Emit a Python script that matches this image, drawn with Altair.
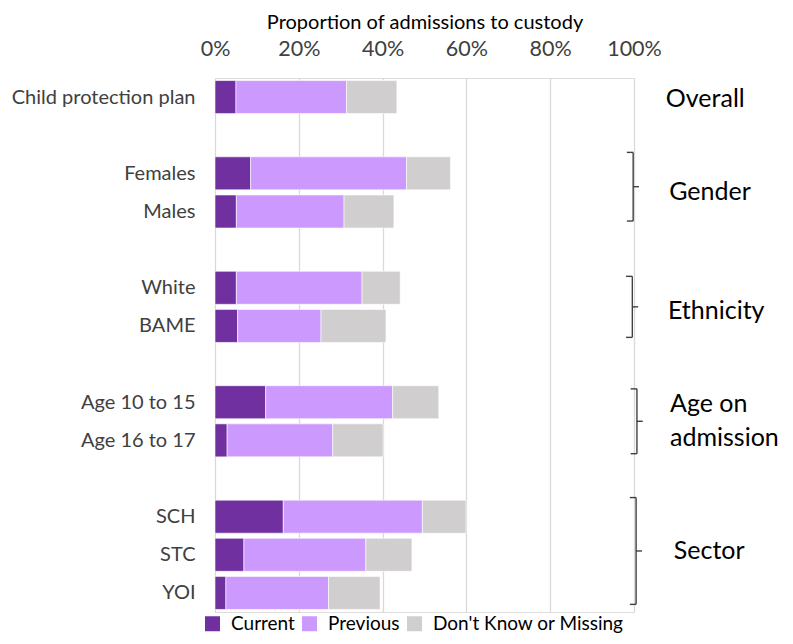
import altair as alt
import pandas as pd

categories = ["Child protection plan", "Females", "Males", "White", "BAME",
              "Age 10 to 15", "Age 16 to 17", "SCH", "STC", "YOI"]
rows = [0, 2, 3, 5, 6, 8, 9, 11, 12, 13]
current = [5.0, 8.5, 5.1, 5.1, 5.4, 12.1, 2.9, 16.3, 6.9, 2.6]
previous = [26.4, 37.2, 25.7, 30.0, 19.9, 30.3, 25.2, 33.2, 29.1, 24.5]
dont_know = [12.0, 10.5, 11.9, 9.1, 15.5, 11.0, 12.0, 10.4, 11.0, 12.3]
series = ["Current", "Previous", "Don't Know or Missing"]
colors = ["#7030A0", "#CC99FF", "#D0CECE"]

# group annotations (right side)
group_labels = ["Overall", "Gender", "Ethnicity", "Age on", "admission", "Sector"]
group_label_x = [107.6, 108.4, 108.1, 108.6, 108.6, 109.5]
group_label_row = [0.05, 2.5, 5.62, 8.05, 8.95, 11.9]

bracket_top = [1.45, 4.7, 7.65, 10.5]
bracket_bottom = [3.25, 6.3, 9.35, 13.3]
bracket_x = [99.8, 99.6, 100.7, 100.5]

rec = []
for i, c in enumerate(categories):
    for j, (s, v) in enumerate(zip(series, [current[i], previous[i], dont_know[i]])):
        rec.append({"category": c, "row": rows[i], "series": s, "order": j, "value": v})
df = pd.DataFrame(rec)

lab_df = pd.DataFrame({"label": group_labels, "x": group_label_x, "row": group_label_row})
br_df = pd.DataFrame({"top": bracket_top, "bottom": bracket_bottom, "bx": bracket_x})

label_expr = " : ".join(f"datum.value == {r} ? '{c}'" for r, c in zip(rows, categories)) + " : ''"

yscale = alt.Scale(domain=[-0.5, 13.5], reverse=True, nice=False, zero=False)
xscale = alt.Scale(domain=[0, 100], nice=False)

bars = alt.Chart(df).transform_stack(
    stack="value", groupby=["row"], as_=["x0", "x1"],
    sort=[alt.SortField("order", "ascending")]
).transform_calculate(
    ytop="datum.row - 0.433", ybot="datum.row + 0.433"
).mark_bar(stroke="white", strokeWidth=0.6).encode(
    x=alt.X("x0:Q", scale=xscale,
            axis=alt.Axis(orient="top", values=[0, 20, 40, 60, 80, 100],
                          labelExpr="datum.value + '%'", grid=True, gridColor="#d9d9d9",
                          gridWidth=1.3, ticks=False, domain=False, labelFlush=False,
                          labelFontSize=21.5, labelColor="#404040", labelPadding=18,
                          title="Proportion of admissions to custody", titleFontSize=20,
                          titleFontWeight="normal", titleColor="#000000", titlePadding=6)),
    x2="x1:Q",
    y=alt.Y("ytop:Q", scale=yscale,
            axis=alt.Axis(values=rows, labelExpr=label_expr, grid=False, ticks=False,
                          domain=False, labelFontSize=20, labelColor="#404040",
                          labelPadding=20, labelLimit=300, title=None)),
    y2="ybot:Q",
    color=alt.Color("series:N", scale=alt.Scale(domain=series, range=colors),
                    legend=alt.Legend(orient="none", legendX=-12, legendY=536,
                                      direction="horizontal", title=None,
                                      symbolType="square", symbolSize=225,
                                      symbolStrokeWidth=0, labelFontSize=19,
                                      labelColor="#000000", columnPadding=5,
                                      labelOffset=9, labelLimit=400)),
    order=alt.Order("order:Q"),
)

texts = alt.Chart(lab_df).mark_text(align="left", baseline="middle", fontSize=25,
                                     color="#000000").encode(
    x=alt.X("x:Q", scale=xscale), y=alt.Y("row:Q", scale=yscale), text="label:N")

bcol = "#404040"
bvert = alt.Chart(br_df).mark_rule(color=bcol, strokeWidth=1.4).encode(
    x=alt.X("bx:Q", scale=xscale), y=alt.Y("top:Q", scale=yscale), y2="bottom:Q")
btop = alt.Chart(br_df).transform_calculate(hx="datum.bx - 1.5").mark_rule(
    color=bcol, strokeWidth=1.4).encode(
    x=alt.X("hx:Q", scale=xscale), x2="bx:Q", y=alt.Y("top:Q", scale=yscale))
bbot = alt.Chart(br_df).transform_calculate(hx="datum.bx - 1.5").mark_rule(
    color=bcol, strokeWidth=1.4).encode(
    x=alt.X("hx:Q", scale=xscale), x2="bx:Q", y=alt.Y("bottom:Q", scale=yscale))
bmid = alt.Chart(br_df).transform_calculate(
    tx="datum.bx + 1.4", mid="(datum.top + datum.bottom) / 2").mark_rule(
    color=bcol, strokeWidth=1.4).encode(
    x=alt.X("bx:Q", scale=xscale), x2="tx:Q", y=alt.Y("mid:Q", scale=yscale))

chart = alt.layer(bars, bvert, btop, bbot, bmid, texts).properties(
    width=419, height=534,
    autosize=alt.AutoSizeParams(type="none"),
    padding={"left": 207, "top": 70, "right": 150, "bottom": 24},
).configure_view(stroke=None).configure(font="Lato")

chart.save("out.html", embed_options={"renderer": "svg", "actions": False})
